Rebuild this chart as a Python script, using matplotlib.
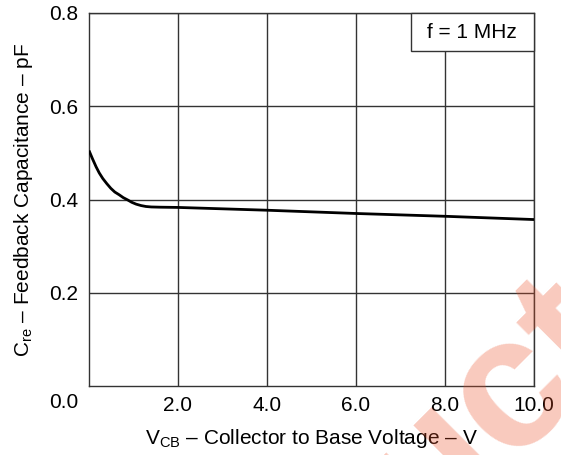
import matplotlib
matplotlib.use('Agg')
import matplotlib.pyplot as plt
from matplotlib.patches import Rectangle

plt.rcParams['font.family'] = ['Liberation Sans', 'DejaVu Sans']
plt.rcParams['mathtext.fontset'] = 'custom'
plt.rcParams['mathtext.rm'] = 'Liberation Sans'

# curve
vcb = [0.0, 0.08, 0.16, 0.23, 0.31, 0.40, 0.49, 0.58, 0.68, 0.77, 0.87,
       0.96, 1.06, 1.17, 1.28, 1.40, 1.60, 2.0, 4.0, 6.0, 8.0, 10.0]
cre = [0.505, 0.487, 0.470, 0.457, 0.445, 0.434, 0.424, 0.416, 0.410, 0.404,
       0.399, 0.394, 0.390, 0.387, 0.385, 0.384, 0.3835, 0.383,
       0.377, 0.370, 0.364, 0.357]

x_ticks = [2.0, 4.0, 6.0, 8.0, 10.0]
y_ticks = [0.2, 0.4, 0.6, 0.8]

fig = plt.figure(figsize=(5.61, 4.55), dpi=100)
ax = fig.add_axes([89 / 561, 1 - 386 / 455, 445 / 561, 373 / 455])

ax.plot(vcb, cre, color='black', linewidth=2.0, zorder=3,
        solid_capstyle='butt')
ax.set_xlim(0, 10)
ax.set_ylim(0, 0.8)
ax.set_xticks(x_ticks)
ax.set_xticklabels([f'{v:.1f}' for v in x_ticks])
ax.set_yticks(y_ticks)
ax.set_yticklabels([f'{v:.1f}' for v in y_ticks])
ax.tick_params(length=0, labelsize=15, colors='black')
ax.tick_params(axis='x', pad=7)
ax.tick_params(axis='y', pad=8)
ax.grid(True, color='#333333', linewidth=1.0)
for s in ax.spines.values():
    s.set_color('#333333')
    s.set_linewidth(1.0)

# the 0.0 corner label sits on the x tick row
ax.text(-11 / 445, -7 / 373, '0.0',
        transform=ax.transAxes, fontsize=15, ha='right', va='top')

ax.set_xlabel(r'V$_{\mathregular{CB}}$ – Collector to Base Voltage – V',
              fontsize=15, labelpad=9)
ax.set_ylabel(r'C$_{\mathregular{re}}$ – Feedback Capacitance – pF',
              fontsize=15, labelpad=10)

# condition box flush with the top-right corner
ax.add_patch(Rectangle((0.7236, 0.898), 0.2764, 0.102, transform=ax.transAxes,
                       facecolor='white', edgecolor='#333333', linewidth=1.0,
                       zorder=4, clip_on=False))
ax.text(0.861, 0.948, 'f = 1 MHz', transform=ax.transAxes, fontsize=15,
        ha='center', va='center', zorder=5)

# watermark left over from the datasheet page
fig.text(1.117, 0.252, 'Product', fontsize=135, fontweight='bold',
         color='#eb5028', alpha=0.3, rotation=45, rotation_mode='anchor',
         ha='right', va='baseline', zorder=10)

fig.savefig('out.png', dpi=100)
